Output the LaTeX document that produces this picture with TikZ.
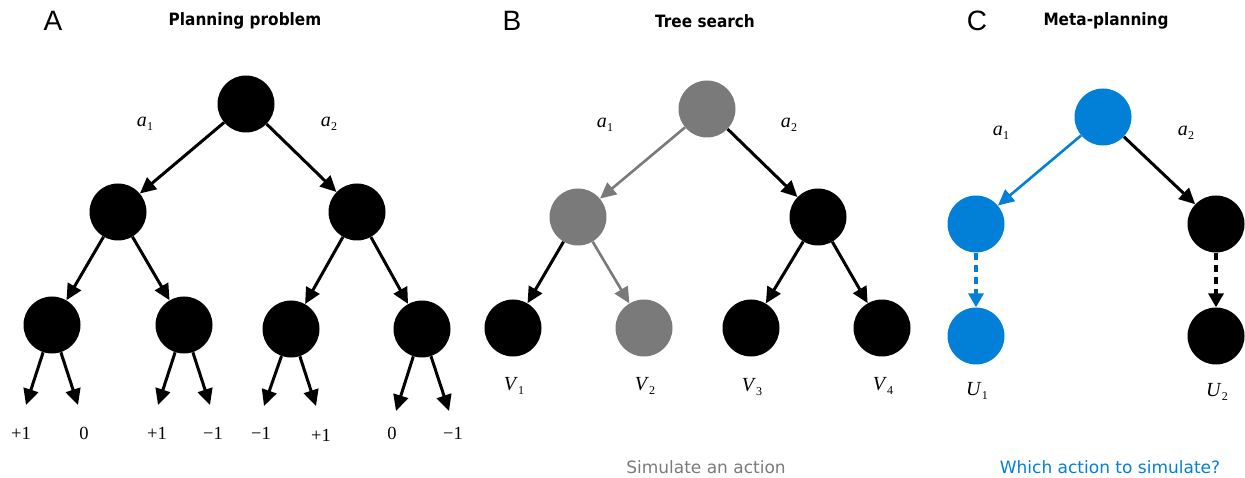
\documentclass[tikz,border=0pt]{standalone}
\usepackage{fontspec}
\setmainfont{Liberation Serif}
\newfontfamily\titlefont[FakeStretch=0.9]{DejaVu Sans}
\newfontfamily\captionfont{DejaVu Sans}
\newfontfamily\panelfont{Liberation Sans}
\usetikzlibrary{arrows.meta}

\definecolor{simgray}{RGB}{122,122,122}
\definecolor{metablue}{RGB}{2,128,216}

% italic symbol with a lowered upright index
\newcommand\idx[2]{\textit{#1}\kern0.3pt\raisebox{-0.45ex}{\fontsize{12}{12}\selectfont #2}}

\tikzset{
  state/.style={circle, fill=#1, minimum size=57pt, inner sep=0pt},
  state/.default=black,
  edge/.style={line width=3pt, draw=#1, -{Triangle[length=16pt,width=15pt]}},
  edge/.default=black,
  softedge/.style={edge=#1, line width=2.6pt},
  dashedge/.style={edge=#1, line width=4pt, dash pattern=on 7pt off 5pt,
    -{Triangle[length=14pt,width=15pt]}},
  lab/.style={font=\fontsize{20}{20}\selectfont, inner sep=0pt},
  num/.style={font=\fontsize{18.5}{18.5}\selectfont, inner sep=0pt},
  title/.style={font=\titlefont\bfseries\fontsize{17}{19}\selectfont, inner sep=0pt},
  panel/.style={font=\panelfont\fontsize{28}{28}\selectfont, inner sep=0pt},
  caption/.style={font=\captionfont\fontsize{17}{19}\selectfont, inner sep=0pt},
}

\begin{document}
\begin{tikzpicture}[x=1pt, y=-1pt]
\useasboundingbox (0,0) rectangle (1245,478);

% ---------- A: planning problem ----------
\node[panel] (pA) at (53,21) {A};
\node[title] (tA) at (245,21) {Planning problem};

\node[state] (A0) at (246,104) {};
\node[state] (A1) at (118,212) {};
\node[state] (A2) at (357,212) {};
\node[state] (A11) at (52,325) {};
\node[state] (A12) at (184,325) {};
\node[state] (A21) at (291,329) {};
\node[state] (A22) at (422,329) {};

\node[lab] (Aa1) at (145,124) {\idx{a}{1}};
\node[lab] (Aa2) at (329,124) {\idx{a}{2}};

\draw[edge] (A0) -- (A1);
\draw[edge] (A0) -- (A2);
\draw[edge] (A1) -- (A11);
\draw[edge] (A1) -- (A12);
\draw[edge] (A2) -- (A21);
\draw[edge] (A2) -- (A22);

% reward arrows end in free points above the reward values
\coordinate (r1) at (26,405);
\coordinate (r2) at (78,405);
\coordinate (r3) at (158,405);
\coordinate (r4) at (210,405);
\coordinate (r5) at (264,406);
\coordinate (r6) at (316,406);
\coordinate (r7) at (396,411);
\coordinate (r8) at (449,411);
\draw[edge] (A11) -- (r1);
\draw[edge] (A11) -- (r2);
\draw[edge] (A12) -- (r3);
\draw[edge] (A12) -- (r4);
\draw[edge] (A21) -- (r5);
\draw[edge] (A21) -- (r6);
\draw[edge] (A22) -- (r7);
\draw[edge] (A22) -- (r8);

\node[num] (v1) at (21,433) {+1};
\node[num] (v2) at (84,433) {0};
\node[num] (v3) at (157,433) {+1};
\node[num] (v4) at (213,433) {\textminus1};
\node[num] (v5) at (261,433) {\textminus1};
\node[num] (v6) at (321,435) {+1};
\node[num] (v7) at (392,433) {0};
\node[num] (v8) at (453,433) {\textminus1};

% ---------- B: tree search ----------
\node[panel] (pB) at (512,21) {B};
\node[title] (tB) at (705,21) {Tree search};

\node[state=simgray] (B0) at (707,109) {};
\node[state=simgray] (B1) at (578,217) {};
\node[state] (B2) at (818,217) {};
\node[state] (B11) at (513,328) {};
\node[state=simgray] (B12) at (644,328) {};
\node[state] (B21) at (751,328) {};
\node[state] (B22) at (882,328) {};

\node[lab] (Ba1) at (605,125) {\idx{a}{1}};
\node[lab] (Ba2) at (789,125) {\idx{a}{2}};

\draw[softedge=simgray] (B0) -- (B1);
\draw[edge] (B0) -- (B2);
\draw[edge] (B1) -- (B11);
\draw[softedge=simgray] (B1) -- (B12);
\draw[edge] (B2) -- (B21);
\draw[edge] (B2) -- (B22);

\node[lab] (V1) at (514,386) {\idx{V}{1}};
\node[lab] (V2) at (645,386) {\idx{V}{2}};
\node[lab] (V3) at (752,387) {\idx{V}{3}};
\node[lab] (V4) at (883,386) {\idx{V}{4}};

\node[caption, text=simgray] (cB) at (706,467) {Simulate an action};

% ---------- C: meta-planning ----------
\node[panel] (pC) at (977,21) {C};
\node[title] (tC) at (1106,21) {Meta-planning};

\node[state=metablue] (C0) at (1103,117) {};
\node[state=metablue] (C1) at (976,224) {};
\node[state] (C2) at (1216,224) {};
\node[state=metablue] (C11) at (976,336) {};
\node[state] (C21) at (1216,336) {};

\node[lab] (Ca1) at (1001,133) {\idx{a}{1}};
\node[lab] (Ca2) at (1186,133) {\idx{a}{2}};

\draw[softedge=metablue] (C0) -- (C1);
\draw[edge] (C0) -- (C2);
\draw[dashedge=metablue] (C1) -- (C11);
\draw[dashedge] (C2) -- (C21);

\node[lab] (U1) at (977,391) {\idx{U}{1}};
\node[lab] (U2) at (1217,392) {\idx{U}{2}};

\node[caption, text=metablue] (cC) at (1110,467) {Which action to simulate?};
\end{tikzpicture}
\end{document}
